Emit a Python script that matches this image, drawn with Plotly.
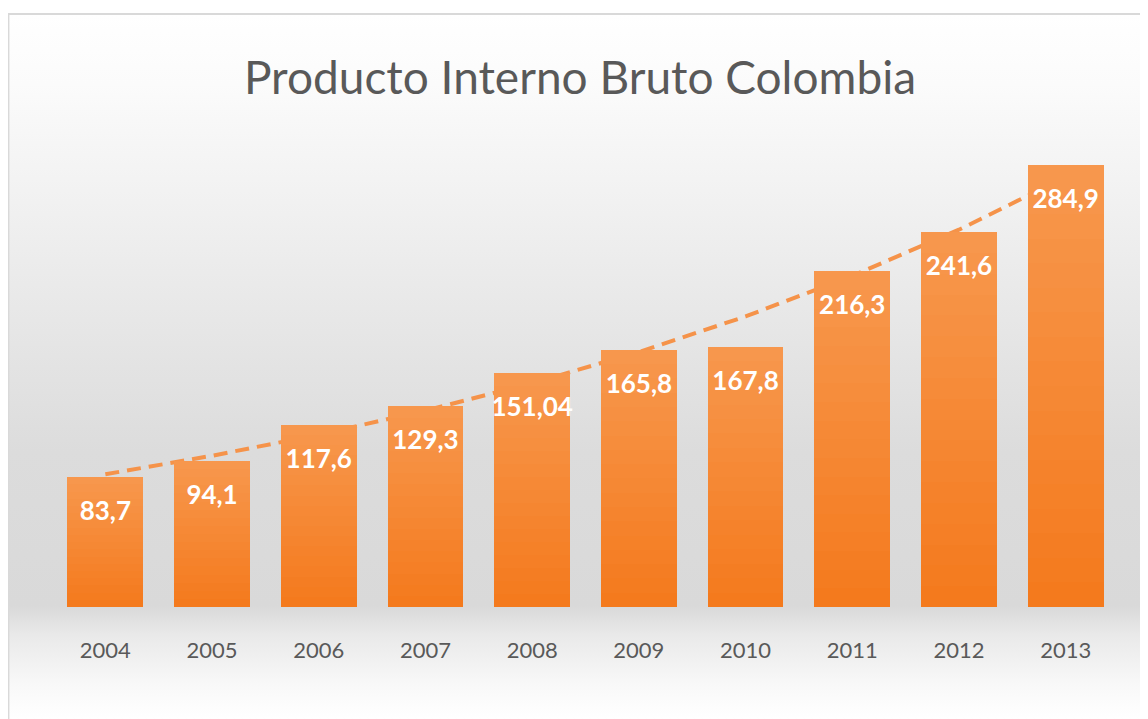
import base64
import numpy as np
import plotly.graph_objects as go

years = ["2004", "2005", "2006", "2007", "2008", "2009", "2010", "2011", "2012", "2013"]
pib = [83.7, 94.1, 117.6, 129.3, 151.04, 165.8, 167.8, 216.3, 241.6, 284.9]
title_text = "Producto Interno Bruto Colombia"

# exponential trendline (as Excel's), fitted from the data
xs = np.arange(1, len(pib) + 1)
b, a = np.polyfit(xs, np.log(pib), 1)
trend = np.exp(a + b * xs)

OFF = 8                  # page body margin
W, H = 1148 - OFF, 719 - OFF
L, R = 51.6 - OFF, 1119.4 - OFF      # plot area px (figure coords)
T, B = 120 - OFF, 607 - OFF
YMAX = (B - T) / ((607 - 165) / 284.9)

def px_x(p):
    return (p - OFF - L) / (R - L)

def px_y(p):
    return (B - (p - OFF)) / (B - T)

fig = go.Figure()

# trendline on base axes (drawn behind bars)
fig.add_trace(go.Scatter(
    x=years, y=trend, mode="lines", xaxis="x", yaxis="y",
    line=dict(color="#f5934a", width=4, dash="14px,8px"),
    hoverinfo="skip", showlegend=False,
))

# bars with vertical gradient via stacked slices
N = 18
bot = np.array([244, 121, 28])
top = np.array([247, 152, 78])
for i in range(N):
    t = (i + 0.5) / N
    c = bot + (top - bot) * t
    fig.add_trace(go.Bar(
        x=years, y=[v / N for v in pib], xaxis="x2", yaxis="y2",
        marker=dict(color="rgb(%d,%d,%d)" % tuple(c.round().astype(int)), line=dict(width=0)),
        hoverinfo="skip", showlegend=False,
    ))

# data labels (white bold, inside end)
fig.add_trace(go.Scatter(
    x=years, y=pib, xaxis="x2", yaxis="y2", mode="markers+text",
    text=["<b>" + str(v).replace(".", ",") + "</b>" for v in pib],
    textposition="bottom center",
    textfont=dict(family="Lato", size=26, color="white"),
    marker=dict(size=36, color="rgba(0,0,0,0)"),
    hoverinfo="skip", showlegend=False, cliponaxis=False,
))

# background gradient image
svg = """<svg xmlns='http://www.w3.org/2000/svg' width='100' height='100' preserveAspectRatio='none'>
<defs><linearGradient id='g' x1='0' y1='0' x2='0' y2='1'>
<stop offset='0' stop-color='#ffffff'/>
<stop offset='0.10' stop-color='#fbfbfb'/>
<stop offset='0.40' stop-color='#e9e9e9'/>
<stop offset='0.62' stop-color='#dcdcdc'/>
<stop offset='0.84' stop-color='#d9d9d9'/>
<stop offset='0.88' stop-color='#e9e9e9'/>
<stop offset='0.95' stop-color='#f8f8f8'/>
<stop offset='1' stop-color='#ffffff'/>
</linearGradient></defs>
<rect width='100' height='100' fill='url(#g)'/></svg>"""
src = "data:image/svg+xml;base64," + base64.b64encode(svg.encode()).decode()

fx0, fx1 = px_x(8), px_x(1170)
fy1, fy0 = px_y(14), px_y(719)
fig.add_layout_image(dict(
    source=src, xref="paper", yref="paper", x=fx0, y=fy1,
    sizex=fx1 - fx0, sizey=fy1 - fy0, sizing="stretch",
    xanchor="left", yanchor="top", layer="below",
))
fig.add_shape(type="rect", xref="paper", yref="paper",
              x0=fx0, x1=fx1, y0=fy0 - 0.05, y1=fy1,
              line=dict(color="#d9d9d9", width=2), fillcolor="rgba(0,0,0,0)", layer="below")

axis_common = dict(range=[-0.5, 9.5], type="category", categoryorder="array", categoryarray=years,
                   showgrid=False, zeroline=False, showline=False)
fig.update_layout(
    width=W, height=H,
    margin=dict(l=L, r=W - R, t=T, b=H - B, pad=0),
    paper_bgcolor="white", plot_bgcolor="rgba(0,0,0,0)",
    barmode="stack", bargap=0.29,
    title=dict(text=title_text, x=(580 - OFF) / W, xref="container", xanchor="center",
               y=1 - (78 - OFF) / H, yref="container", yanchor="middle",
               font=dict(family="Lato", size=46, color="#595959")),
    xaxis=dict(**axis_common, ticks="outside", ticklen=24, tickcolor="rgba(0,0,0,0)",
               tickfont=dict(family="Lato", size=22, color="#595959")),
    xaxis2=dict(**axis_common, overlaying="x", showticklabels=False),
    yaxis=dict(range=[0, YMAX], visible=False, showgrid=False, zeroline=False),
    yaxis2=dict(range=[0, YMAX], overlaying="y", visible=False, showgrid=False, zeroline=False),
    showlegend=False,
)

fig.write_html("out.html")
